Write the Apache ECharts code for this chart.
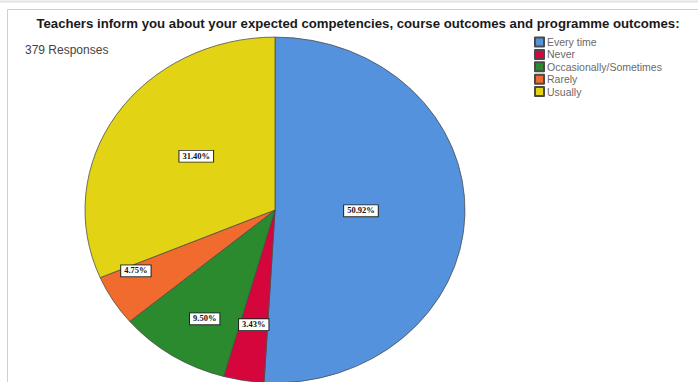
<!DOCTYPE html>
<html>
<head>
<meta charset="utf-8">
<script src="https://cdn.jsdelivr.net/npm/echarts@6/dist/echarts.min.js"></script>
<style>
  html, body { margin: 0; padding: 0; background: #fff; }
  #wrap { position: relative; width: 698px; height: 382px; overflow: hidden; background: #fff; }
  #frame { position: absolute; left: 0; top: 0; width: 698px; height: 382px; }
  /* the pie is drawn as a circle and flattened into an ellipse */
  #pie { position: absolute; left: 0; top: 0; width: 698px; height: 420px;
         transform-origin: 275px 210px; transform: scaleY(0.91); }
</style>
</head>
<body>
<div id="wrap">
  <div id="pie"></div>
  <div id="frame"></div>
</div>
<script>
// Answer categories and their share of the 379 responses (%)
const categories = ['Every time', 'Never', 'Occasionally/Sometimes', 'Rarely', 'Usually'];
const percents = [50.92, 3.43, 9.50, 4.75, 31.40];
const colors = ['#5592de', '#d4063b', '#2b8a2e', '#f06b2d', '#e2d414'];
const titleText = 'Teachers inform you about your expected competencies, course outcomes and programme outcomes:';
const subText = '379 Responses';

const sliceBorder = { borderColor: '#4a4a4a', borderWidth: 0.8 };

const boxLabel = {
  show: true,
  position: 'inside',
  formatter: p => p.value.toFixed(2) + '%',
  fontFamily: 'Liberation Serif',
  fontWeight: 'bold',
  fontSize: 8.5,
  color: '#111',
  backgroundColor: '#fff',
  borderColor: '#222',
  borderWidth: 1,
  padding: [2, 3, 1, 3]
};

// Labels for the two large slices sit half way out; the narrow ones further out
const bigSlices = ['Every time', 'Usually'];
// small nudges of individual labels away from the default spot
const labelNudge = {
  'Every time': [-12, -2],
  'Never': [2, -13],
  'Occasionally/Sometimes': [6, 1],
  'Rarely': [-19, -7],
  'Usually': [3, -5]
};

const pieData = categories.map((name, i) => ({
  name: name,
  value: percents[i],
  itemStyle: { color: colors[i] }
}));

const pieChart = echarts.init(document.getElementById('pie'), null, { renderer: 'svg' });
pieChart.setOption({
  animation: false,
  series: [
    {
      type: 'pie',
      center: [275, 210],
      radius: [0, 190],
      startAngle: 90,
      clockwise: true,
      silent: true,
      itemStyle: sliceBorder,
      label: boxLabel,
      labelLine: { show: false },
      data: pieData.map(d => Object.assign({}, d, {
        label: { show: bigSlices.includes(d.name), offset: labelNudge[d.name] }
      }))
    },
    {
      type: 'pie',
      center: [275, 210],
      radius: [86, 190],
      startAngle: 90,
      clockwise: true,
      silent: true,
      itemStyle: { color: 'rgba(0,0,0,0)', borderWidth: 0 },
      label: boxLabel,
      labelLine: { show: false },
      data: pieData.map(d => ({
        name: d.name,
        value: d.value,
        itemStyle: { color: 'rgba(0,0,0,0)' },
        label: { show: !bigSlices.includes(d.name), offset: labelNudge[d.name] }
      }))
    }
  ]
});

const frameChart = echarts.init(document.getElementById('frame'), null, { renderer: 'svg' });
frameChart.setOption({
  animation: false,
  title: [
    {
      text: titleText,
      left: 358,
      top: 17,
      padding: 0,
      textAlign: 'center',
      textStyle: { fontFamily: 'Liberation Sans', fontWeight: 'bold', fontSize: 13.2, color: '#1a1a1a' }
    },
    {
      text: subText,
      left: 25,
      top: 44,
      padding: 0,
      textStyle: { fontFamily: 'Liberation Sans', fontWeight: 'normal', fontSize: 12, color: '#444' }
    }
  ],
  legend: {
    orient: 'vertical',
    left: 534,
    top: 36,
    padding: 0,
    icon: 'rect',
    itemWidth: 9,
    itemHeight: 9,
    itemGap: 0.4,
    selectedMode: false,
    textStyle: { fontFamily: 'Liberation Sans', fontSize: 10.5, lineHeight: 12, color: '#6a6a6a', padding: [0, 0, 0, -2] },
    data: categories
  },
  graphic: [
    { type: 'line', silent: true, shape: { x1: 0, y1: 1.5, x2: 698, y2: 1.5 }, style: { stroke: '#e2e2e2', lineWidth: 2 } },
    { type: 'line', silent: true, shape: { x1: 7.5, y1: 9.5, x2: 698, y2: 9.5 }, style: { stroke: '#cfcfcf', lineWidth: 1 } },
    { type: 'line', silent: true, shape: { x1: 7.5, y1: 9.5, x2: 7.5, y2: 382 }, style: { stroke: '#cfcfcf', lineWidth: 1 } }
  ],
  // carries the legend swatches; the visible pie is drawn in the chart below
  series: [
    {
      type: 'pie',
      center: [275, 210],
      radius: [0, 0],
      silent: true,
      itemStyle: sliceBorder,
      label: { show: false },
      labelLine: { show: false },
      data: pieData
    }
  ]
});
</script>
</body>
</html>
